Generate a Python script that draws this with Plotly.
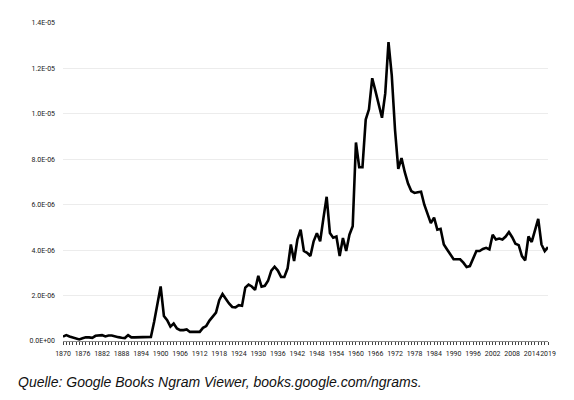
import plotly.graph_objects as go

years = list(range(1870, 2020))
values_e6 = [
    0.19, 0.26, 0.20, 0.15, 0.10, 0.07, 0.12, 0.16, 0.16, 0.14,   # 1870-1879
    0.23, 0.25, 0.26, 0.20, 0.24, 0.24, 0.22, 0.17, 0.14, 0.13,   # 1880-1889
    0.26, 0.16, 0.16, 0.17, 0.16, 0.17, 0.17, 0.18, 0.85, 1.65,   # 1890-1899
    2.40, 1.10, 0.92, 0.63, 0.77, 0.55, 0.48, 0.48, 0.51, 0.40,   # 1900-1909
    0.41, 0.39, 0.40, 0.58, 0.66, 0.90, 1.10, 1.25, 1.80, 2.07,   # 1910-1919
    1.86, 1.65, 1.50, 1.48, 1.58, 1.55, 2.35, 2.48, 2.40, 2.25,   # 1920-1929
    2.87, 2.39, 2.43, 2.65, 3.10, 3.27, 3.10, 2.82, 2.82, 3.20,   # 1930-1939
    4.25, 3.52, 4.46, 4.90, 3.96, 3.88, 3.74, 4.39, 4.75, 4.39,   # 1940-1949
    5.40, 6.35, 4.75, 4.55, 4.60, 3.74, 4.53, 3.96, 4.68, 5.05,   # 1950-1959
    8.74, 7.65, 7.65, 9.75, 10.20, 11.57, 11.00, 10.40, 9.83, 10.90,  # 1960-1969
    13.16, 11.70, 9.30, 7.58, 8.05, 7.43, 6.93, 6.60, 6.52, 6.55,  # 1970-1979
    6.57, 6.00, 5.60, 5.19, 5.43, 4.90, 4.94, 4.25, 4.03, 3.80,   # 1980-1989
    3.60, 3.60, 3.60, 3.45, 3.26, 3.30, 3.60, 3.96, 3.96, 4.05,   # 1990-1999
    4.10, 4.03, 4.68, 4.47, 4.51, 4.47, 4.60, 4.80, 4.57, 4.28,   # 2000-2009
    4.22, 3.74, 3.55, 4.60, 4.36, 4.85, 5.38, 4.25, 3.96, 4.13,   # 2010-2019
]
values = [v * 1e-6 for v in values_e6]

x_label_years = list(range(1870, 2015, 6)) + [2019]
x_ticktext = [str(y) if y in x_label_years else "" for y in years]

y_tickvals = [0, 2e-6, 4e-6, 6e-6, 8e-6, 1e-5, 1.2e-5, 1.4e-5]
y_ticktext = ["0.0E+00", "2.0E-06", "4.0E-06", "6.0E-06", "8.0E-06",
              "1.0E-05", "1.2E-05", "1.4E-05"]

caption = "Quelle: Google Books Ngram Viewer, books.google.com/ngrams."

fig = go.Figure()
fig.add_trace(go.Scatter(
    x=years, y=values, mode="lines",
    line=dict(color="black", width=2.6),
    hoverinfo="skip", showlegend=False,
))

W, H = 566, 392
ML, MR, MT, MB = 55, 26, 11, 59
PW, PH = W - ML - MR, H - MT - MB

fig.update_layout(
    width=W, height=H,
    margin=dict(l=ML, r=MR, t=MT, b=MB),
    paper_bgcolor="white", plot_bgcolor="white",
    showlegend=False,
    font=dict(family="Roboto", color="#1a1a1a"),
    xaxis=dict(
        range=[1870, 2019],
        tickmode="array", tickvals=years, ticktext=x_ticktext,
        tickangle=0,
        ticks="outside", ticklen=3, tickwidth=1, tickcolor="#444444",
        showline=True, linecolor="#888888", linewidth=1,
        showgrid=False, zeroline=False,
        tickfont=dict(size=7, color="#1a1a1a"),
        ticklabelstandoff=3,
    ),
    yaxis=dict(
        range=[0, 1.4e-5],
        tickmode="array", tickvals=y_tickvals, ticktext=y_ticktext,
        showgrid=True, gridcolor="#ececec", gridwidth=1,
        zeroline=False, showline=False, ticks="",
        tickfont=dict(size=7, color="#1a1a1a"),
        ticklabelstandoff=7,
    ),
    annotations=[dict(
        text="<i>" + caption + "</i>",
        xref="paper", yref="paper",
        x=(8 - ML) / PW, y=-42 / PH,
        xanchor="left", yanchor="middle",
        showarrow=False,
        font=dict(family="Liberation Sans", size=14, color="#111111"),
    )],
)

fig.write_html("out.html")
